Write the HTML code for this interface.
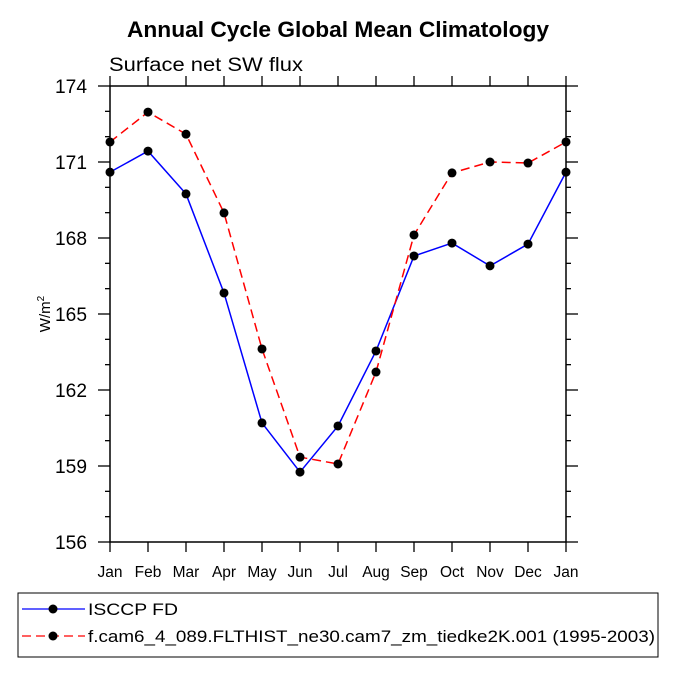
<!DOCTYPE html>
<html><head><meta charset="utf-8"><style>
body{margin:0;background:#fff;}
svg text{font-family:"Liberation Sans",Arial,sans-serif;}
</style></head><body>
<svg id="chart" width="675" height="675" viewBox="0 0 675 675" xmlns="http://www.w3.org/2000/svg">
<text x="127" y="37" font-size="22" font-weight="bold" textLength="422" lengthAdjust="spacingAndGlyphs">Annual Cycle Global Mean Climatology</text>
<text x="109" y="71" font-size="19" textLength="194" lengthAdjust="spacingAndGlyphs">Surface net SW flux</text>
<text transform="translate(50,314) rotate(-90)" font-size="15" text-anchor="middle">W/m<tspan font-size="10" dy="-6">2</tspan></text>
<g id="axes"></g>
<g id="series"></g>
<rect x="18" y="593" width="640" height="64" fill="none" stroke="#000" stroke-width="1"/>
<g>
<line x1="22" y1="609" x2="85" y2="609" stroke="#0000ff" stroke-width="1.3"/>
<circle cx="53" cy="609" r="4.5" fill="#000"/>
<text x="88" y="615" font-size="17" textLength="90" lengthAdjust="spacingAndGlyphs">ISCCP FD</text></g>
<g>
<line x1="22" y1="636" x2="85" y2="636" stroke="#ff0000" stroke-width="1.3" stroke-dasharray="9,5"/>
<circle cx="53" cy="636" r="4.5" fill="#000"/>
<text x="88" y="642" font-size="17" textLength="567" lengthAdjust="spacingAndGlyphs">f.cam6_4_089.FLTHIST_ne30.cam7_zm_tiedke2K.001 (1995-2003)</text></g>
</svg>
<script>
const months=["Jan","Feb","Mar","Apr","May","Jun","Jul","Aug","Sep","Oct","Nov","Dec","Jan"];
const isccp=[170.6,171.43,169.74,165.83,160.7,158.76,160.58,163.54,167.29,167.8,166.9,167.76,170.6];
const model=[171.79,172.97,172.1,168.99,163.62,159.35,159.08,162.71,168.12,170.57,171.0,170.96,171.79];
const yTicks=[156,159,162,165,168,171,174];
const X0=110,X1=566,Y0=86,Y1=542,YMIN=156,YMAX=174;
const xs=i=>X0+(X1-X0)*i/(months.length-1);
const ys=v=>Y1-(v-YMIN)/(YMAX-YMIN)*(Y1-Y0);
const NS="http://www.w3.org/2000/svg";
function mk(t,a,p){const e=document.createElementNS(NS,t);for(const k in a)e.setAttribute(k,a[k]);p.appendChild(e);return e;}
const ax=document.getElementById('axes');
const frame=mk('rect',{x:X0,y:Y0,width:X1-X0,height:Y1-Y0,fill:'none',stroke:'#000','stroke-width':1.5},ax);


months.forEach((m,i)=>{
 const x=xs(i);
 mk('line',{x1:x,y1:Y1,x2:x,y2:Y1+10,stroke:'#000','stroke-width':1.3},ax);
 mk('line',{x1:x,y1:Y0,x2:x,y2:Y0-10,stroke:'#000','stroke-width':1.3},ax);
 const t=mk('text',{x:x,y:Y1+35,'font-size':15.5,'text-anchor':'middle'},ax);
 t.textContent=m;
 
 
});
for(let v=YMIN;v<=YMAX;v++){
 const y=ys(v);const major=(v-YMIN)%3===0;const L=major?12:5;
 mk('line',{x1:X0,y1:y,x2:X0-L,y2:y,stroke:'#000','stroke-width':1.3},ax);
 mk('line',{x1:X1,y1:y,x2:X1+L,y2:y,stroke:'#000','stroke-width':1.3},ax);
}
yTicks.forEach(v=>{
 const t=mk('text',{x:X0-23,y:ys(v)+7,'font-size':19,'text-anchor':'end',textLength:32,lengthAdjust:'spacingAndGlyphs'},ax);
 t.textContent=v;
 
 
});
const sg=document.getElementById('series');
function series(vals,color,dash,name){
 const g=mk('g',{},sg);
 
 
 const a={points:vals.map((v,i)=>xs(i)+','+ys(v)).join(' '),fill:'none',stroke:color,'stroke-width':1.5};
 if(dash)a['stroke-dasharray']=dash;
 mk('polyline',a,g);
 vals.forEach((v,i)=>{const c=mk('circle',{cx:xs(i),cy:ys(v),r:4.5,fill:'#000'},g);
  
  });
}
series(isccp,'#0000ff',null,'series-isccp');
series(model,'#ff0000','9,5','series-model');
</script>
</body></html>
